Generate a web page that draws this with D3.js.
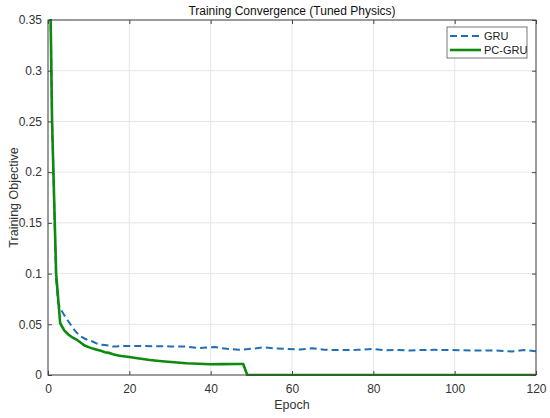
<!DOCTYPE html>
<html>
<head>
<meta charset="utf-8">
<script src="https://cdn.jsdelivr.net/npm/d3@7"></script>
<style>
  body { margin: 0; background: #fff; }
  svg { font-family: "Liberation Sans", Arial, sans-serif; }
</style>
</head>
<body>
<div id="chart"></div>
<script>

// values
var xTicks = [0, 20, 40, 60, 80, 100, 120];
var yTicks = [0, 0.05, 0.1, 0.15, 0.2, 0.25, 0.3, 0.35];
var seriesNames = ['GRU', 'PC-GRU'];

// GRU (dashed) : [epoch, objective]
var gruPts = [
  [0, 0.54], [1, 0.25], [2, 0.095], [2.5, 0.071], [3, 0.066], [4, 0.059], [5, 0.053], [6, 0.047],
  [7, 0.042], [8, 0.038], [9, 0.036], [10, 0.034], [11, 0.033], [12, 0.031], [13, 0.030],
  [14, 0.0295], [15, 0.029], [16, 0.028], [17, 0.0282], [18, 0.0288], [19, 0.0286],
  [22, 0.0286], [26, 0.0284], [30, 0.0282], [34, 0.028], [37, 0.0265], [39, 0.027],
  [41, 0.0275], [44, 0.0258], [47, 0.0249], [50, 0.0258], [53, 0.0272], [56, 0.0262],
  [59, 0.0257], [62, 0.0252], [65, 0.0264], [68, 0.0249], [72, 0.0246], [76, 0.0248],
  [80, 0.0256], [83, 0.0244], [86, 0.0246], [89, 0.0242], [92, 0.0247], [95, 0.0248],
  [99, 0.0246], [102, 0.0244], [105, 0.0242], [108, 0.0242], [111, 0.0240],
  [114, 0.0232], [117, 0.0246], [120, 0.0234]
];

// PC-GRU (solid) : [epoch, objective]
var pcPts = [
  [0, 0.54], [1, 0.25], [2, 0.10], [3, 0.051], [4, 0.044], [5, 0.040], [6, 0.037],
  [7, 0.035], [8, 0.032], [9, 0.029], [10, 0.0275], [11, 0.026], [12, 0.025],
  [13, 0.0238], [14, 0.0225], [15, 0.0218], [16, 0.0205], [17, 0.0195], [18, 0.0188],
  [20, 0.0178], [22, 0.0165], [25, 0.0148], [28, 0.0136], [31, 0.0126], [34, 0.0116],
  [37, 0.0111], [40, 0.0106], [43, 0.0107], [46, 0.0108], [48, 0.0108], [49, 0],
  [60, 0], [80, 0], [100, 0], [120, 0]
];

var W = 550, H = 418;
var m = { top: 20, right: 14, bottom: 43, left: 48 };
var iw = W - m.left - m.right, ih = H - m.top - m.bottom;

var svg = d3.select('#chart').append('svg')
  .attr('width', W).attr('height', H);

var g = svg.append('g').attr('transform', `translate(${m.left},${m.top})`);

var x = d3.scaleLinear().domain([0, 120]).range([0, iw]);
var y = d3.scaleLinear().domain([0, 0.35]).range([ih, 0]);

// grid
g.append('g').selectAll('line').data(xTicks).enter().append('line')
  .attr('x1', d => x(d)).attr('x2', d => x(d)).attr('y1', 0).attr('y2', ih)
  .attr('stroke', '#e6e6e6').attr('stroke-width', 1);
g.append('g').selectAll('line').data(yTicks).enter().append('line')
  .attr('y1', d => y(d)).attr('y2', d => y(d)).attr('x1', 0).attr('x2', iw)
  .attr('stroke', '#e6e6e6').attr('stroke-width', 1);

var clip = svg.append('defs').append('clipPath').attr('id', 'clip')
  .append('rect').attr('width', iw).attr('height', ih + 2).attr('y', -1);

var line = d3.line().x(d => x(d[0])).y(d => y(d[1]));

var plot = g.append('g').attr('clip-path', 'url(#clip)');
plot.append('path').datum(gruPts)
  .attr('d', line).attr('fill', 'none')
  .attr('stroke', '#1f6fb8').attr('stroke-width', 2)
  .attr('stroke-dasharray', '7,4');
plot.append('path').datum(pcPts)
  .attr('d', line).attr('fill', 'none')
  .attr('stroke', '#0e8a0e').attr('stroke-width', 2.6);

// axes (box with inward ticks)
var axisCol = '#444';
function styleAxis(sel) {
  sel.select('.domain').remove();
  sel.selectAll('line').attr('stroke', axisCol);
  sel.selectAll('text').attr('fill', '#333').style('font-size', '12px');
}
g.append('g').attr('transform', `translate(0,${ih})`)
  .call(d3.axisBottom(x).tickValues(xTicks).tickSize(-4).tickPadding(9).tickFormat(d3.format('d')))
  .call(styleAxis);
g.append('g')
  .call(d3.axisLeft(y).tickValues(yTicks).tickSize(-4).tickPadding(6).tickFormat(d => d === 0 ? '0' : String(+d.toFixed(2))))
  .call(styleAxis);
g.append('g')
  .call(d3.axisTop(x).tickValues(xTicks).tickSize(-4).tickFormat(''))
  .call(styleAxis);
g.append('g').attr('transform', `translate(${iw},0)`)
  .call(d3.axisRight(y).tickValues(yTicks).tickSize(-4).tickFormat(''))
  .call(styleAxis);
g.append('rect').attr('width', iw).attr('height', ih)
  .attr('fill', 'none').attr('stroke', axisCol).attr('stroke-width', 1);

// labels
svg.append('text').attr('x', m.left + iw / 2).attr('y', 15)
  .attr('text-anchor', 'middle').style('font-size', '12px').attr('fill', '#111')
  .text('Training Convergence (Tuned Physics)');
svg.append('text').attr('x', m.left + iw / 2).attr('y', 409)
  .attr('text-anchor', 'middle').style('font-size', '12.5px').attr('fill', '#333')
  .text('Epoch');
svg.append('text').attr('transform', `translate(18,${m.top + ih / 2}) rotate(-90)`)
  .attr('text-anchor', 'middle').style('font-size', '12.5px').attr('fill', '#333')
  .text('Training Objective');

// legend
var lg = svg.append('g').attr('transform', 'translate(447,27)');
lg.append('rect').attr('width', 80).attr('height', 31)
  .attr('fill', '#fff').attr('stroke', '#555').attr('stroke-width', 0.8);
var lgStyles = [
  { col: '#1f6fb8', w: 2, dash: '7,4' },
  { col: '#0e8a0e', w: 2.6, dash: null }
];
seriesNames.forEach(function (name, i) {
  var yy = 9 + i * 14;
  lg.append('line').attr('x1', 3).attr('x2', 34).attr('y1', yy).attr('y2', yy)
    .attr('stroke', lgStyles[i].col).attr('stroke-width', lgStyles[i].w)
    .attr('stroke-dasharray', lgStyles[i].dash);
  lg.append('text').attr('x', 37).attr('y', yy + 4)
    .style('font-size', '11px').attr('fill', '#222').text(name);
});
</script>
</body>
</html>
